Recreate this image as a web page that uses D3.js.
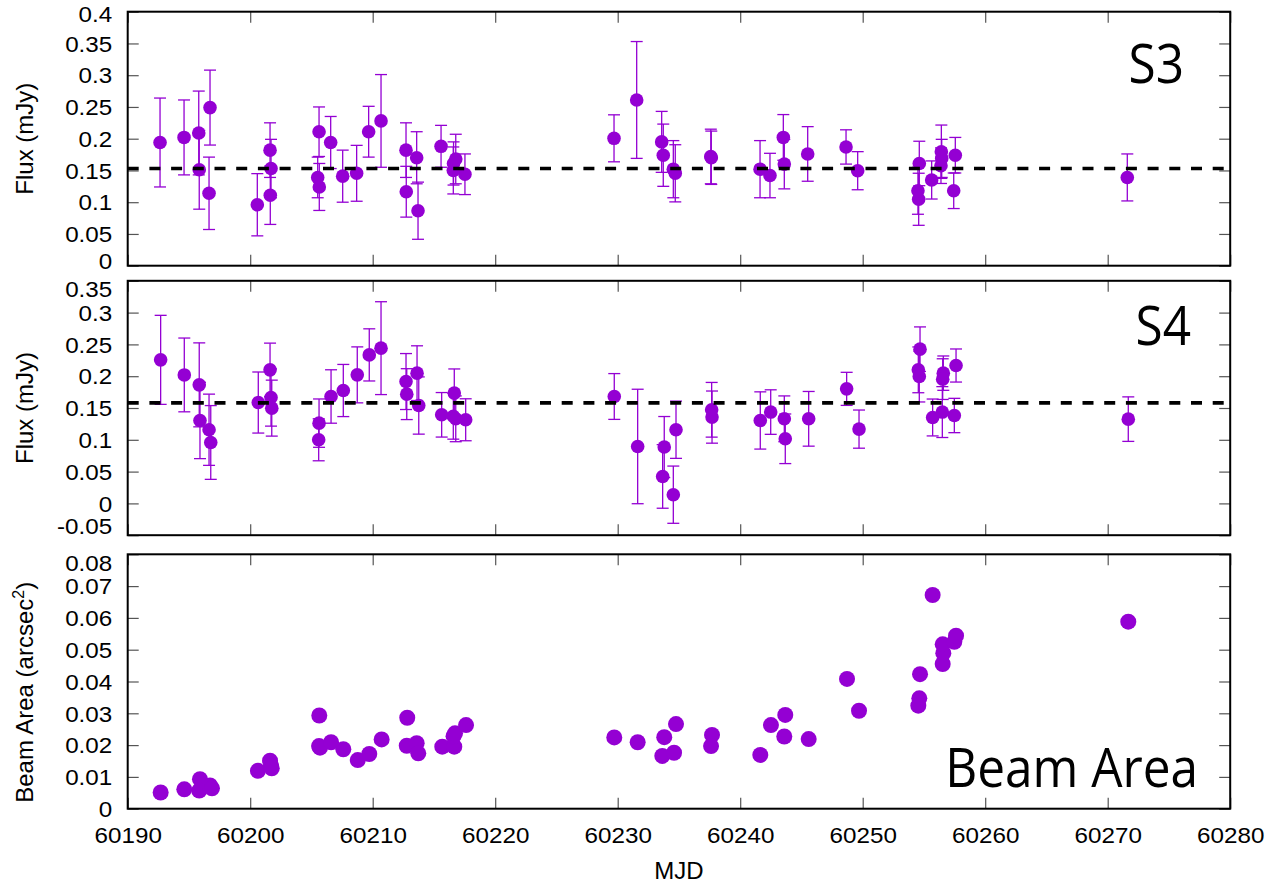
<!DOCTYPE html>
<html>
<head>
<meta charset="utf-8">
<script src="https://cdn.jsdelivr.net/npm/d3@7"></script>
<style>
  html, body { margin: 0; padding: 0; background: #fff; }
  svg { display: block; }
</style>
</head>
<body>
<svg id="chart" width="1286" height="886"></svg>
<script>
// ---------------- DATA ----------------
// S3 panel: MJD, flux (mJy), error (mJy)
const s3Mjd = [60192.64,60194.60,60195.80,60195.84,60196.72,60196.64,60200.58,60201.62,60201.70,60201.64,
  60205.62,60205.51,60205.64,60206.57,60207.55,60208.69,60209.67,60210.68,60212.72,60212.74,
  60213.59,60213.70,60215.58,60216.58,60216.60,60216.78,60217.53,60229.70,60231.55,60233.59,
  60233.72,60234.54,60234.70,60237.60,60237.64,60241.62,60242.43,60243.52,60243.60,60245.51,
  60248.64,60249.59,60254.62,60254.51,60254.57,60255.63,60256.42,60256.45,60256.39,60257.43,
  60257.56,60271.60];
const s3Flux = [0.194,0.202,0.209,0.151,0.249,0.114,0.096,0.182,0.153,0.111,
  0.211,0.139,0.124,0.194,0.141,0.1455,0.211,0.228,0.182,0.1165,
  0.170,0.0866,0.188,0.150,0.161,0.168,0.144,0.2006,0.261,0.195,
  0.174,0.152,0.1455,0.172,0.170,0.152,0.142,0.202,0.160,0.176,
  0.187,0.1496,0.161,0.118,0.1046,0.135,0.1795,0.169,0.1575,0.118,
  0.174,0.139];
const s3Err = [0.070,0.059,0.066,0.062,0.059,0.057,0.049,0.043,0.046,0.046,
  0.039,0.032,0.037,0.041,0.041,0.044,0.040,0.073,0.043,0.040,
  0.041,0.045,0.033,0.037,0.034,0.039,0.032,0.037,0.092,0.048,
  0.049,0.045,0.045,0.043,0.042,0.045,0.035,0.036,0.039,0.043,
  0.027,0.030,0.035,0.037,0.041,0.030,0.042,0.030,0.028,0.028,
  0.028,0.037];
const s3Mean = 0.153;

// S4 panel
const s4Mjd = [60192.69,60194.62,60195.84,60195.90,60196.64,60196.78,60200.66,60201.62,60201.70,60201.76,
  60205.62,60205.59,60206.60,60207.60,60208.74,60209.72,60210.68,60212.72,60212.78,60213.62,
  60213.76,60215.63,60216.66,60216.58,60216.78,60217.59,60229.72,60231.63,60233.80,60233.67,
  60234.76,60234.54,60237.67,60237.70,60241.64,60242.49,60243.60,60243.68,60245.59,60248.69,
  60249.70,60254.68,60254.54,60254.62,60255.71,60256.58,60256.53,60256.50,60257.62,60257.48,
  60271.68];
const s4Flux = [0.2257,0.202,0.1864,0.1304,0.1158,0.0958,0.1586,0.210,0.1665,0.1498,
  0.1262,0.100,0.1681,0.1775,0.2021,0.2335,0.2441,0.1916,0.1718,0.2048,
  0.1539,0.1393,0.1734,0.137,0.133,0.1315,0.1681,0.0895,0.0886,0.0424,
  0.1158,0.0137,0.1472,0.1357,0.1304,0.1436,0.133,0.1016,0.133,0.1801,
  0.1168,0.2425,0.210,0.1995,0.1351,0.2048,0.1954,0.1436,0.2168,0.1382,
  0.1325];
const s4Err = [0.070,0.058,0.066,0.060,0.056,0.058,0.048,0.042,0.045,0.044,
  0.038,0.033,0.042,0.041,0.044,0.041,0.073,0.044,0.040,0.043,
  0.045,0.035,0.038,0.036,0.036,0.033,0.036,0.090,0.048,0.050,
  0.045,0.045,0.043,0.041,0.045,0.035,0.036,0.039,0.043,0.026,
  0.030,0.035,0.036,0.040,0.029,0.027,0.032,0.040,0.026,0.027,
  0.035];
const s4Mean = 0.158;

// Beam area panel: MJD, area (arcsec^2)
const beamMjd = [60192.69,60194.62,60195.90,60195.84,60196.72,60196.88,60200.63,60201.62,60201.70,60201.76,
  60205.64,60205.70,60205.62,60206.60,60207.60,60208.78,60209.72,60210.73,60212.82,60212.78,
  60213.59,60213.72,60215.68,60216.66,60216.60,60216.72,60217.62,60229.72,60231.63,60233.80,
  60233.64,60234.60,60234.76,60237.70,60237.62,60241.64,60242.51,60243.68,60243.60,60245.59,
  60248.72,60249.70,60254.68,60254.62,60254.54,60255.71,60256.53,60256.58,60256.53,60257.48,
  60257.62,60271.68];
const beamArea = [0.0051,0.0061,0.0093,0.0057,0.0073,0.0064,0.0119,0.0151,0.0135,0.0127,
  0.0293,0.0192,0.0197,0.0209,0.0187,0.0153,0.0172,0.0218,0.0286,0.0198,
  0.0206,0.0174,0.0195,0.0195,0.0228,0.0237,0.0263,0.0224,0.0209,0.0225,
  0.0166,0.0176,0.0266,0.0232,0.0197,0.0169,0.0263,0.0295,0.0227,0.0219,
  0.0408,0.0308,0.0423,0.0347,0.0324,0.0672,0.0455,0.0489,0.0517,0.0525,
  0.0544,0.0588];

// Tick values
const xTicks = [60190,60200,60210,60220,60230,60240,60250,60260,60270,60280];
const s3Ticks = [0,0.05,0.1,0.15,0.2,0.25,0.3,0.35,0.4];
const s4Ticks = [-0.05,0,0.05,0.1,0.15,0.2,0.25,0.3,0.35];
const beamTicks = [0,0.01,0.02,0.03,0.04,0.05,0.06,0.07,0.08];

// ---------------- DRAWING ----------------
const svg = d3.select('#chart');
const L = 127.7, R = 1230.2;
const x = d3.scaleLinear().domain([60190, 60280]).range([L, R]);
const PURPLE = '#9400D3';
const TICKFONT = '"Liberation Sans", Arial, Helvetica, sans-serif';
const fmt = d => String(+d.toFixed(4));

const panels = [
  { top: 11.7, bottom: 265.7, domain: [0, 0.4], ticks: s3Ticks, shiftBottom: -5, shiftTop: 2.5,
    mjd: s3Mjd, val: s3Flux, err: s3Err, mean: s3Mean, r: 6.8, title: 'Flux (mJy)', tag: 'S3',
    tagX: 1184, tagY: 83 },
  { top: 280.8, bottom: 535.2, domain: [-0.05, 0.35], ticks: s4Ticks, shiftBottom: -9.5, shiftTop: 8,
    mjd: s4Mjd, val: s4Flux, err: s4Err, mean: s4Mean, r: 6.8, title: 'Flux (mJy)', tag: 'S4',
    tagX: 1191, tagY: 345 },
  { top: 554.3, bottom: 808.7, domain: [0, 0.08], ticks: beamTicks, shiftBottom: 0, shiftTop: 8.4,
    mjd: beamMjd, val: beamArea, err: null, mean: null, r: 8, title: null, tag: 'Beam Area',
    tagX: 1198, tagY: 786.7, xLabels: true }
];

panels.forEach((p, pi) => {
  const y = d3.scaleLinear().domain(p.domain).range([p.bottom, p.top]);
  const g = svg.append('g');

  const styleTicks = sel => {
    sel.select('.domain').remove();
    sel.selectAll('.tick line').attr('stroke', '#555').attr('stroke-width', 1.2);
  };

  // left axis with labels
  const gl = g.append('g').attr('transform', `translate(${L},0)`)
    .call(d3.axisLeft(y).tickValues(p.ticks).tickSize(-11).tickSizeOuter(0).tickFormat(fmt));
  styleTicks(gl);
  const nT = p.ticks.length;
  gl.selectAll('.tick text')
    .attr('x', 0).attr('dy', '0.35em')
    .attr('text-anchor', 'end')
    .attr('fill', '#000')
    .style('font-family', TICKFONT).style('font-size', '22px')
    .attr('transform', (d, i) => {
      let s = 0;
      if (i === 0) s = p.shiftBottom;
      if (i === nT - 1) s = p.shiftTop;
      return `translate(-15.5,${s}) scale(1.1,1)`;
    });

  // right mirror ticks
  const gr = g.append('g').attr('transform', `translate(${R},0)`)
    .call(d3.axisRight(y).tickValues(p.ticks).tickSize(-11).tickSizeOuter(0).tickFormat(''));
  styleTicks(gr);

  // top mirror ticks
  const gt = g.append('g').attr('transform', `translate(0,${p.top})`)
    .call(d3.axisTop(x).tickValues(xTicks).tickSize(-11).tickSizeOuter(0).tickFormat(''));
  styleTicks(gt);

  // bottom ticks
  const gb = g.append('g').attr('transform', `translate(0,${p.bottom})`)
    .call(d3.axisBottom(x).tickValues(xTicks).tickSize(-11).tickSizeOuter(0)
      .tickFormat(p.xLabels ? d3.format('d') : ''));
  styleTicks(gb);
  if (p.xLabels) {
    gb.selectAll('.tick text')
      .attr('y', 0).attr('dy', '0.71em')
      .attr('fill', '#000')
      .style('font-family', TICKFONT).style('font-size', '22px')
      .attr('transform', 'translate(0,18.6) scale(1.1,1)');
  }

  // error bars
  if (p.err) {
    const eb = g.append('g').attr('stroke', PURPLE).attr('stroke-width', 1.3).attr('fill', 'none');
    p.mjd.forEach((m, i) => {
      const cx = x(m), y1 = y(p.val[i] - p.err[i]), y2 = y(p.val[i] + p.err[i]);
      eb.append('line').attr('x1', cx).attr('x2', cx).attr('y1', y1).attr('y2', y2);
      eb.append('line').attr('x1', cx - 6).attr('x2', cx + 6).attr('y1', y1).attr('y2', y1);
      eb.append('line').attr('x1', cx - 6).attr('x2', cx + 6).attr('y1', y2).attr('y2', y2);
    });
  }

  // points
  g.append('g').selectAll('circle').data(p.mjd).join('circle')
    .attr('cx', d => x(d))
    .attr('cy', (d, i) => y(p.val[i]))
    .attr('r', p.r)
    .attr('fill', PURPLE);

  // dashed mean line
  if (p.mean !== null) {
    g.append('line')
      .attr('x1', L).attr('x2', R)
      .attr('y1', y(p.mean)).attr('y2', y(p.mean))
      .attr('stroke', '#000').attr('stroke-width', 3.6)
      .attr('stroke-dasharray', '11,10.7');
  }

  // border
  g.append('rect')
    .attr('x', L).attr('y', p.top)
    .attr('width', R - L).attr('height', p.bottom - p.top)
    .attr('fill', 'none').attr('stroke', '#000').attr('stroke-width', 2);

  // y axis title
  const cy = (p.top + p.bottom) / 2;
  if (p.title) {
    g.append('text')
      .attr('transform', `translate(32.5,${cy}) rotate(-90)`)
      .attr('text-anchor', 'middle')
      .style('font-family', TICKFONT).style('font-size', '24px')
      .attr('fill', '#000')
      .text(p.title);
  } else {
    const t = g.append('text')
      .attr('transform', `translate(32.5,692.3) rotate(-90)`)
      .attr('text-anchor', 'middle')
      .style('font-family', TICKFONT).style('font-size', '24px')
      .attr('fill', '#000');
    t.append('tspan').text('Beam Area (arcsec');
    t.append('tspan').attr('dy', -9).style('font-size', '16px').text('2');
    t.append('tspan').attr('dy', 9).text(')');
  }

  // panel tag
  g.append('text')
    .attr('transform', `translate(${p.tagX},${p.tagY}) scale(0.9,1)`)
    .attr('text-anchor', 'end')
    .style('font-family', '"Open Sans", "Noto Sans", sans-serif')
    .style('font-size', '55px')
    .attr('fill', '#000')
    .text(p.tag);
});

// x axis title
svg.append('text')
  .attr('x', (L + R) / 2).attr('y', 879.3)
  .attr('text-anchor', 'middle')
  .style('font-family', TICKFONT).style('font-size', '24px')
  .attr('fill', '#000')
  .text('MJD');
</script>
</body>
</html>
